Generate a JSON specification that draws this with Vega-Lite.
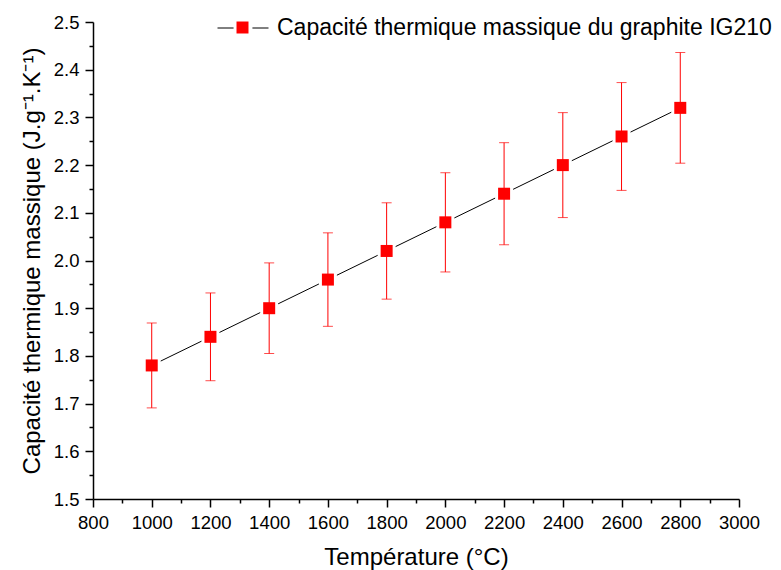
{
  "$schema": "https://vega.github.io/schema/vega-lite/v6.json",
  "width": 646,
  "height": 477,
  "autosize": {"type": "none"},
  "padding": {"left": 93, "top": 22, "right": 42, "bottom": 71},
  "background": "white",
  "config": {
    "view": {"stroke": null},
    "font": "Liberation Sans",
    "axis": {"grid": false, "labelFont": "Liberation Sans", "titleFont": "Liberation Sans", "labelColor": "black", "titleColor": "black", "domainColor": "black", "tickColor": "black", "titleFontWeight": "normal"},
    "legend": {"labelFontWeight": "normal"}
  },
  "data": {
    "values": [
      {"T": 1000, "C": 1.78, "lo": 1.691, "hi": 1.869, "s1": "Capacité thermique massique du graphite IG210", "s2": "Capacité thermique massique du graphite IG210"},
      {"T": 1200, "C": 1.84, "lo": 1.748, "hi": 1.932, "s1": "Capacité thermique massique du graphite IG210", "s2": "Capacité thermique massique du graphite IG210"},
      {"T": 1400, "C": 1.90, "lo": 1.805, "hi": 1.995, "s1": "Capacité thermique massique du graphite IG210", "s2": "Capacité thermique massique du graphite IG210"},
      {"T": 1600, "C": 1.96, "lo": 1.862, "hi": 2.058, "s1": "Capacité thermique massique du graphite IG210", "s2": "Capacité thermique massique du graphite IG210"},
      {"T": 1800, "C": 2.02, "lo": 1.919, "hi": 2.121, "s1": "Capacité thermique massique du graphite IG210", "s2": "Capacité thermique massique du graphite IG210"},
      {"T": 2000, "C": 2.08, "lo": 1.976, "hi": 2.184, "s1": "Capacité thermique massique du graphite IG210", "s2": "Capacité thermique massique du graphite IG210"},
      {"T": 2200, "C": 2.14, "lo": 2.033, "hi": 2.247, "s1": "Capacité thermique massique du graphite IG210", "s2": "Capacité thermique massique du graphite IG210"},
      {"T": 2400, "C": 2.20, "lo": 2.090, "hi": 2.310, "s1": "Capacité thermique massique du graphite IG210", "s2": "Capacité thermique massique du graphite IG210"},
      {"T": 2600, "C": 2.26, "lo": 2.147, "hi": 2.373, "s1": "Capacité thermique massique du graphite IG210", "s2": "Capacité thermique massique du graphite IG210"},
      {"T": 2800, "C": 2.32, "lo": 2.204, "hi": 2.436, "s1": "Capacité thermique massique du graphite IG210", "s2": "Capacité thermique massique du graphite IG210"}
    ]
  },
  "resolve": {"axis": {"x": "independent", "y": "independent"}, "legend": {"stroke": "independent", "fill": "independent"}},
  "layer": [
    {
      "mark": {"type": "line", "strokeWidth": 1},
      "encoding": {
        "x": {"field": "T", "type": "quantitative", "scale": {"domain": [800, 3000], "nice": false, "zero": false},
          "axis": {"orient": "bottom", "title": "Température (°C)", "values": [800, 1000, 1200, 1400, 1600, 1800, 2000, 2200, 2400, 2600, 2800, 3000], "format": "d", "labelFontSize": 18.5, "titleFontSize": 24, "tickSize": 8, "tickWidth": 1.5, "domainWidth": 1.5, "labelPadding": 6, "titlePadding": 14, "labelFlush": false, "labelOverlap": false}},
        "y": {"field": "C", "type": "quantitative", "scale": {"domain": [1.5, 2.5], "nice": false, "zero": false},
          "axis": {"orient": "left", "title": "Capacité thermique massique (J.g⁻¹.K⁻¹)", "values": [1.5, 1.6, 1.7, 1.8, 1.9, 2.0, 2.1, 2.2, 2.3, 2.4, 2.5], "format": ".1f", "labelFontSize": 18.5, "titleFontSize": 24, "tickSize": 8, "tickWidth": 1.5, "domainWidth": 1.5, "labelPadding": 6, "titlePadding": 9, "labelFlush": false, "labelOverlap": false}},
        "stroke": {"field": "s1", "type": "nominal", "scale": {"range": ["black"]},
          "legend": {"orient": "none", "legendX": 124, "legendY": -20, "title": null, "padding": 0, "symbolType": "M-1,0H-0.37M0.37,0H1", "symbolSize": 2601, "symbolStrokeWidth": 1, "labelFontSize": 23, "labelFont": "Liberation Sans", "labelFontWeight": "normal", "labelColor": "black", "labelOffset": 8, "labelLimit": 0}}
      }
    },
    {
      "mark": {"type": "point", "shape": "square", "filled": true, "size": 324, "color": "white", "opacity": 1},
      "encoding": {
        "x": {"field": "T", "type": "quantitative", "axis": null},
        "y": {"field": "C", "type": "quantitative", "axis": null}
      }
    },
    {
      "mark": {"type": "rule", "color": "red", "strokeWidth": 1},
      "encoding": {
        "x": {"field": "T", "type": "quantitative", "axis": null},
        "y": {"field": "lo", "type": "quantitative", "axis": null},
        "y2": {"field": "hi"}
      }
    },
    {
      "mark": {"type": "tick", "color": "red", "orient": "horizontal", "size": 10, "thickness": 1},
      "encoding": {
        "x": {"field": "T", "type": "quantitative", "axis": null},
        "y": {"field": "lo", "type": "quantitative", "axis": null}
      }
    },
    {
      "mark": {"type": "tick", "color": "red", "orient": "horizontal", "size": 10, "thickness": 1},
      "encoding": {
        "x": {"field": "T", "type": "quantitative", "axis": null},
        "y": {"field": "hi", "type": "quantitative", "axis": null}
      }
    },
    {
      "mark": {"type": "point", "shape": "square", "filled": true, "size": 144, "opacity": 1},
      "encoding": {
        "x": {"field": "T", "type": "quantitative", "axis": null},
        "y": {"field": "C", "type": "quantitative", "axis": null},
        "fill": {"field": "s2", "type": "nominal", "scale": {"range": ["red"]},
          "legend": {"orient": "none", "legendX": 124, "legendY": -20, "title": null, "padding": 0, "symbolType": "M-0.235,-0.235H0.235V0.235H-0.235Z", "symbolSize": 2601, "symbolStrokeWidth": 0, "symbolOpacity": 1, "labelFontSize": 23, "labelFont": "Liberation Sans", "labelFontWeight": "normal", "labelColor": "black", "labelOpacity": 0, "labelOffset": 8, "labelLimit": 0}}
      }
    },
    {
      "mark": {"type": "point", "opacity": 0},
      "encoding": {
        "x": {"field": "T", "type": "quantitative",
          "axis": {"orient": "bottom", "title": null, "labels": false, "domain": false, "values": [900, 1100, 1300, 1500, 1700, 1900, 2100, 2300, 2500, 2700, 2900], "tickSize": 4, "tickWidth": 1.5}},
        "y": {"field": "C", "type": "quantitative",
          "axis": {"orient": "left", "title": null, "labels": false, "domain": false, "values": [1.55, 1.65, 1.75, 1.85, 1.95, 2.05, 2.15, 2.25, 2.35, 2.45], "tickSize": 4, "tickWidth": 1.5}}
      }
    }
  ]
}
